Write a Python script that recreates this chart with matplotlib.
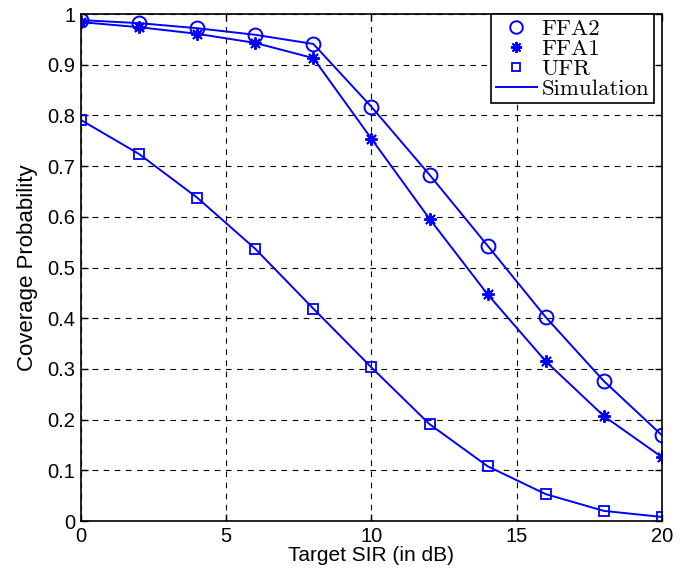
import matplotlib.pyplot as plt
from matplotlib.lines import Line2D

# target SIR (dB)
sir = [0, 2, 4, 6, 8, 10, 12, 14, 16, 18, 20]

ffa2 = [0.988, 0.982, 0.972, 0.959, 0.941, 0.817, 0.683, 0.543, 0.402, 0.276, 0.169]
ffa1 = [0.984, 0.974, 0.961, 0.943, 0.913, 0.754, 0.596, 0.447, 0.315, 0.207, 0.126]
ufr = [0.791, 0.724, 0.638, 0.537, 0.419, 0.303, 0.191, 0.108, 0.053, 0.020, 0.008]

legend_labels = ["FFA2", "FFA1", "UFR", "Simulation"]

plt.rcParams['font.family'] = ['Liberation Sans', 'DejaVu Sans']

fig = plt.figure(figsize=(6.91, 5.74), dpi=100)
ax = fig.add_axes([0.117, 0.0923, 0.841, 0.8833])

col = (0, 0, 1)
lw = 1.4
ax.plot(sir, ffa2, color=col, lw=lw, marker='o', ms=10, mfc='none', mew=1.4)
ax.plot(sir, ffa1, color=col, lw=lw, marker=(8, 2, 0), ms=9, mew=1.4)
ax.plot(sir, ufr, color=col, lw=lw, marker='s', ms=7, mfc='none', mew=1.3)

ax.set_xlim(0, 20)
ax.set_ylim(0, 1)
ax.set_xticks([0, 5, 10, 15, 20])
ax.set_yticks([i / 10 for i in range(11)])
ax.set_yticklabels(['0', '0.1', '0.2', '0.3', '0.4', '0.5', '0.6', '0.7', '0.8', '0.9', '1'])
ax.tick_params(direction='in', top=True, right=True, labelsize=14.5, length=5, width=1)
ax.tick_params(axis='x', pad=4)
ax.tick_params(axis='y', pad=4)
ax.grid(True, color='black', linestyle=(0, (5, 5)), linewidth=0.8)
for s in ax.spines.values():
    s.set_linewidth(1.2)

ax.set_xlabel("Target SIR (in dB)", fontsize=15, labelpad=0)
ax.set_ylabel("Coverage Probability", fontsize=16, labelpad=7)

handles = [
    Line2D([], [], color=col, ls='none', marker='o', ms=9, mfc='none', mew=1.4),
    Line2D([], [], color=col, ls='none', marker=(8, 2, 0), ms=8, mew=1.4),
    Line2D([], [], color=col, ls='none', marker='s', ms=6, mfc='none', mew=1.3),
    Line2D([], [], color=col, lw=lw),
]
leg = ax.legend(handles, legend_labels, loc='upper right', bbox_to_anchor=(1 - 8 / 581, 1.0),
                prop={'family': 'cmr10', 'size': 16.5},
                fancybox=False, framealpha=1, edgecolor='black', borderpad=0.2,
                labelspacing=0.0, handlelength=1.8, handletextpad=0.2, borderaxespad=0.0)
leg.get_frame().set_linewidth(1.2)

fig.savefig("out.png", dpi=100)
